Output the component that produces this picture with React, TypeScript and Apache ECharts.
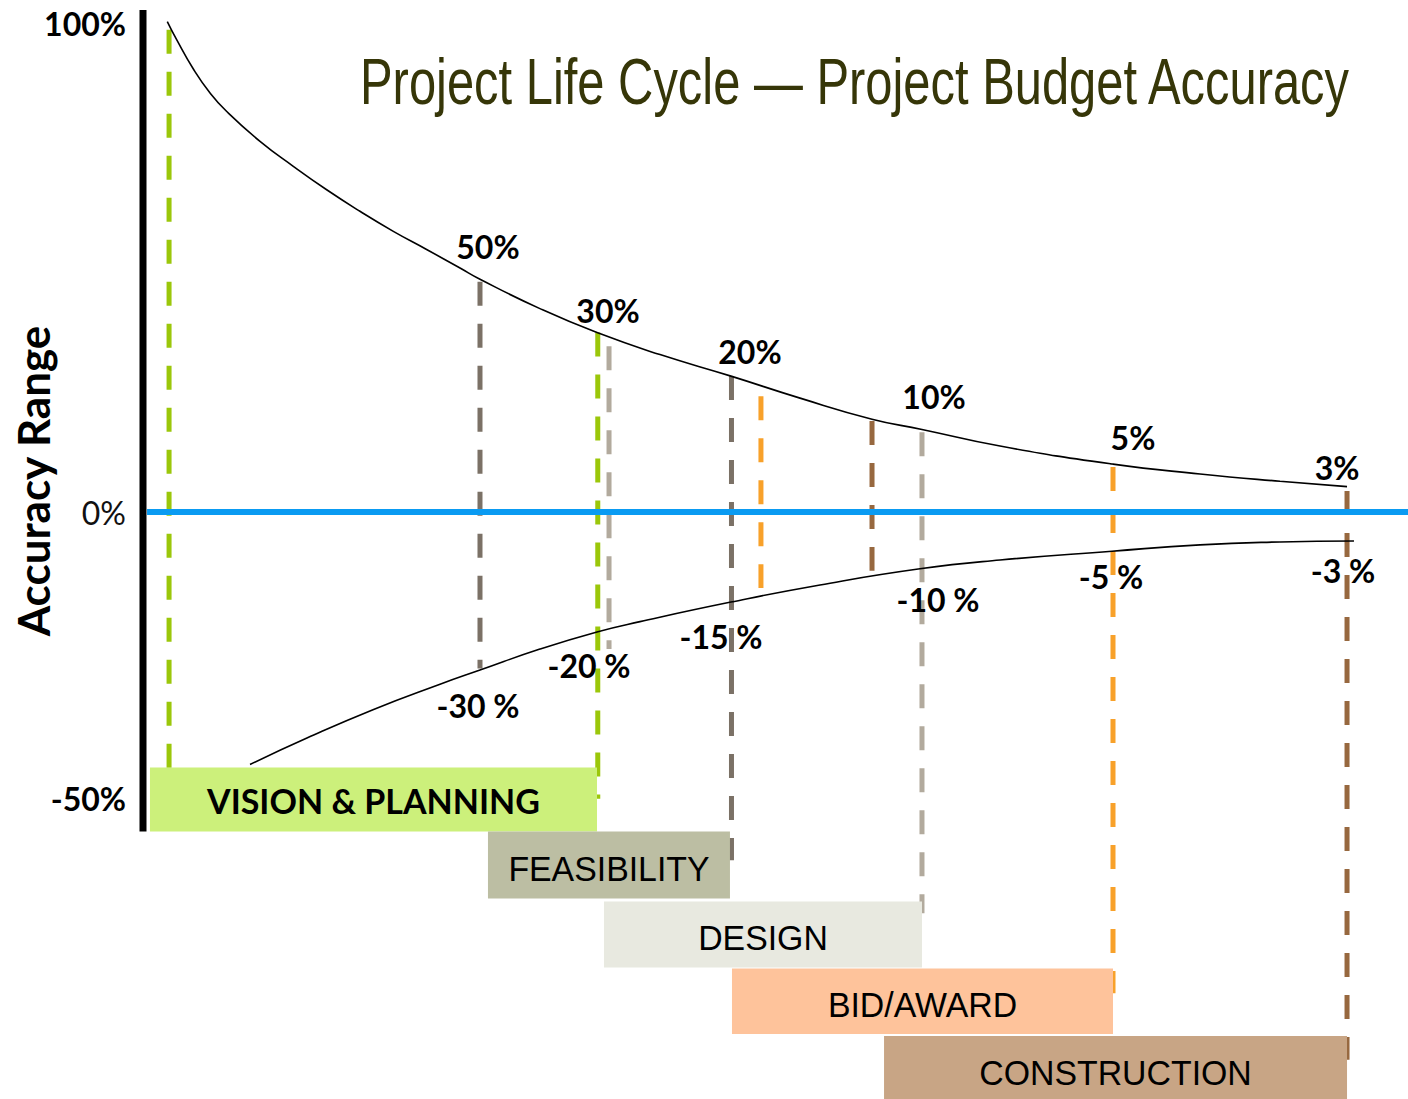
import React, { useEffect, useRef } from "react";
import * as echarts from "echarts";

// ---- axes (timeline units on x, display units on y; 0 = on-budget line) ----
const xMin = 0;
const xMax = 100;
const yMin = -120;
const yMax = 100;

const yTickValues = [100, 0, -58.6];
const yTickLabels = ["100%", "0%", "-50%"];

const titleText = "Project Life Cycle \u2014 Project Budget Accuracy";
const yAxisTitle = "Accuracy Range";

// ---- upper accuracy envelope ----
const upperX = [1.92, 2.66, 3.98, 5.3, 6.62, 9.25, 11.88, 14.52, 17.15, 19.79, 22.42, 25.06, 26.64, 31.38, 35.89, 40.87, 46.48, 51.94, 57.63, 61.58, 67.75, 76.68, 83.56, 89.88, 95.18];
const upperY = [100.3, 96.6, 90.6, 85.7, 81.9, 75.8, 70.7, 65.9, 61.5, 57.4, 53.7, 49.9, 47.6, 41.6, 36.7, 32.2, 27.8, 23.3, 19.0, 16.9, 13.5, 9.8, 7.8, 6.3, 5.2];

// ---- lower accuracy envelope ----
const lowerX = [8.46, 12.96, 18.18, 23.48, 26.64, 31.38, 35.89, 39.29, 46.48, 53.52, 61.42, 67.75, 76.6, 83.56, 89.88, 95.73];
const lowerY = [-51.6, -46.2, -40.4, -35.2, -32.3, -28.0, -24.5, -22.4, -18.4, -14.9, -11.6, -9.8, -8.0, -6.7, -6.1, -5.9];

// ---- milestone dashed lines ----
const milestoneX = [2.06, 26.64, 35.95, 36.84, 46.52, 48.85, 57.63, 61.58, 76.68, 95.18];
const milestoneTop = [98.6, 47.1, 36.7, 33.9, 27.8, 23.7, 18.6, 16.3, 9.2, 4.3];
const milestoneBottom = [-52.4, -32.0, -58.6, -28.0, -71.2, -15.5, -12.0, -82.0, -98.4, -112.0];
const milestonePhase = [0, 1, 0, 2, 1, 3, 4, 2, 3, 4];

// ---- accuracy annotations ----
const upperLabels = ["50%", "30%", "20%", "10%", "5%", "3%"];
const upperLabelX = [27.27, 36.76, 47.98, 62.53, 78.26, 94.39];
const upperLabelY = [54.3, 41.2, 32.9, 23.7, 15.3, 9.2];
const lowerLabels = ["-30 %", "-20 %", "-15 %", "-10 %", "-5 %", "-3 %"];
const lowerLabelX = [26.48, 35.26, 45.69, 62.85, 76.52, 94.86];
const lowerLabelY = [-39.6, -31.4, -25.5, -17.8, -13.1, -12.0];

// ---- project phases ----
const phaseNames = ["VISION & PLANNING", "FEASIBILITY", "DESIGN", "BID/AWARD", "CONSTRUCTION"];
const phaseStart = [0.55, 27.27, 36.44, 46.56, 58.58];
const phaseEnd = [35.89, 46.4, 61.58, 76.68, 95.18];
const phaseTop = [-52.2, -65.3, -79.6, -93.3, -107.1];
const phaseBottom = [-65.3, -79.0, -93.1, -106.7, -120.5];

const phaseFill = ["#ccf07b", "#bcbea3", "#e8e9e0", "#fec39b", "#c8a585"];
const phaseLine = ["#9bc70a", "#7b7166", "#b2aa9d", "#f8a12a", "#97683f"];

export default function App() {
  const ref = useRef<HTMLDivElement>(null);

  useEffect(() => {
    if (!ref.current) return;
    const chart = echarts.init(ref.current, undefined, { renderer: "svg" });

    const upperData = upperX.map((x, i) => [x, upperY[i]]);
    const lowerData = lowerX.map((x, i) => [x, lowerY[i]]);
    const milestoneData = milestoneX.map((x, i) => [x, milestoneTop[i], milestoneBottom[i], milestonePhase[i]]);
    const annotationData = [
      ...upperLabels.map((t, i) => ({ value: [upperLabelX[i], upperLabelY[i]], name: t })),
      ...lowerLabels.map((t, i) => ({ value: [lowerLabelX[i], lowerLabelY[i]], name: t })),
    ];
    const phaseData = phaseNames.map((n, i) => ({ name: n, value: [phaseStart[i], phaseEnd[i], phaseTop[i], phaseBottom[i]] }));

    const option: any = {
      animation: false,
      backgroundColor: "#ffffff",
      grid: { left: 143, right: 0, top: 23, bottom: -2, containLabel: false },
      xAxis: { type: "value", min: xMin, max: xMax, show: false },
      yAxis: {
        type: "value",
        min: yMin,
        max: yMax,
        axisLine: { show: false },
        axisTick: { show: false },
        splitLine: { show: false },
        axisLabel: {
          customValues: yTickValues,
          margin: 17,
          formatter: (v: number) => {
            let best = 0;
            yTickValues.forEach((t, i) => {
              if (Math.abs(t - v) < Math.abs(yTickValues[best] - v)) best = i;
            });
            return best === 1 ? "{n|" + yTickLabels[best] + "}" : "{b|" + yTickLabels[best] + "}";
          },
          rich: {
            b: { fontFamily: "Lato", fontWeight: "bold", fontSize: 32, color: "#000" },
            n: { fontFamily: "Lato", fontWeight: "normal", fontSize: 32, color: "#111" },
          },
        },
      },
      graphic: [
        {
          type: "text",
          x: 360,
          y: 82,
          scaleX: 0.764,
          z: 100,
          style: {
            text: titleText,
            font: "normal 64px 'Liberation Sans'",
            fill: "#363608",
            align: "left",
            verticalAlign: "middle",
            textAlign: "left",
            textVerticalAlign: "middle",
          },
        },
        {
          type: "text",
          x: 33,
          y: 481,
          rotation: Math.PI / 2,
          z: 100,
          style: {
            text: yAxisTitle,
            font: "bold 44px Lato",
            fill: "#000",
            align: "center",
            verticalAlign: "middle",
            textAlign: "center",
            textVerticalAlign: "middle",
          },
        },
      ],
      series: [
        {
          type: "custom",
          name: "milestones",
          z: 2,
          clip: false,
          data: milestoneData,
          renderItem: (params: any, api: any) => {
            const x = api.value(0);
            const top = api.coord([x, api.value(1)]);
            const bot = api.coord([x, api.value(2)]);
            return {
              type: "line",
              shape: { x1: top[0], y1: top[1], x2: bot[0], y2: bot[1] },
              style: { stroke: phaseLine[api.value(3)], lineWidth: 5, lineDash: [24, 18], fill: null },
            };
          },
        },
        {
          type: "line",
          name: "upper",
          z: 3,
          clip: false,
          data: upperData,
          showSymbol: false,
          symbol: "none",
          smooth: 0.5,
          lineStyle: { color: "#000", width: 1.6 },
        },
        {
          type: "line",
          name: "lower",
          z: 3,
          clip: false,
          data: lowerData,
          showSymbol: false,
          symbol: "none",
          smooth: 0.5,
          lineStyle: { color: "#000", width: 1.6 },
        },
        {
          type: "line",
          name: "baseline",
          z: 4,
          clip: false,
          data: [
            [0.32, 0],
            [xMax, 0],
          ],
          showSymbol: false,
          symbol: "none",
          lineStyle: { color: "#0a9bf2", width: 6 },
        },
        {
          type: "line",
          name: "axis",
          z: 4,
          clip: false,
          data: [
            [0, 102.65],
            [0, -65.3],
          ],
          showSymbol: false,
          symbol: "none",
          lineStyle: { color: "#000", width: 7, cap: "butt" },
        },
        {
          type: "custom",
          name: "phases",
          z: 5,
          clip: false,
          data: phaseData,
          renderItem: (params: any, api: any) => {
            const i = params.dataIndex;
            const p0 = api.coord([api.value(0), api.value(2)]);
            const p1 = api.coord([api.value(1), api.value(3)]);
            const bold = i === 0;
            return {
              type: "group",
              children: [
                {
                  type: "rect",
                  shape: { x: p0[0], y: p0[1], width: p1[0] - p0[0], height: p1[1] - p0[1] },
                  style: { fill: phaseFill[i] },
                },
                {
                  type: "text",
                  x: (p0[0] + p1[0]) / 2,
                  y: (p0[1] + p1[1]) / 2 + (bold ? 1 : 3),
                  scaleX: bold ? 1 : 0.94,
                  style: {
                    text: phaseNames[i],
                    font: bold ? "bold 34px Lato" : "normal 36px 'Liberation Sans'",
                    fill: "#000",
                    align: "center",
                    verticalAlign: "middle",
                    textAlign: "center",
                    textVerticalAlign: "middle",
                  },
                },
              ],
            };
          },
        },
        {
          type: "custom",
          name: "annotations",
          z: 6,
          clip: false,
          data: annotationData,
          renderItem: (params: any, api: any) => {
            const p = api.coord([api.value(0), api.value(1)]);
            return {
              type: "text",
              x: p[0],
              y: p[1],
              style: {
                text: annotationData[params.dataIndex].name,
                font: "bold 32px Lato",
                fill: "#000",
                align: "center",
                verticalAlign: "middle",
                textAlign: "center",
                textVerticalAlign: "middle",
              },
            };
          },
        },
      ],
    };

    chart.setOption(option);
    return () => chart.dispose();
  }, []);

  return (
    <div
      ref={ref}
      style={{ position: "fixed", left: 0, top: 0, width: 1408, height: 1099, background: "#fff" }}
    />
  );
}
